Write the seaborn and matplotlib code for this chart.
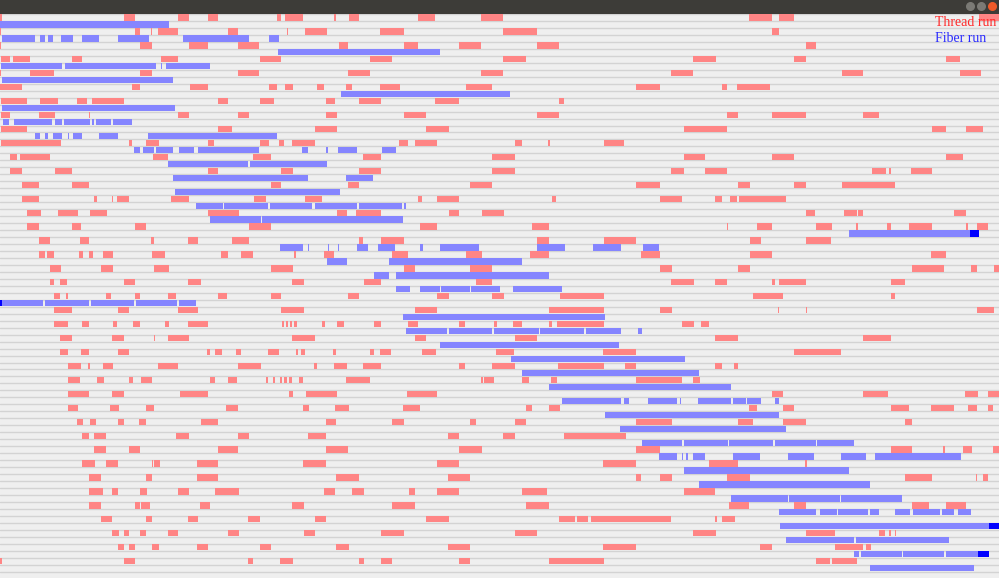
import matplotlib
matplotlib.use("Agg")
import matplotlib.pyplot as plt
from matplotlib.patches import Circle
import seaborn as sns

# time span of the trace (arbitrary ticks) and row layout
T_MAX = 1568
N_THREADS = 40

# thread runs, one list of (start, end) per thread
THREAD_RUNS = [
    [(0,3),(195,212),(280,296),(326,342),(434,441),(447,476),(524,527),(548,564),(656,683),(755,790),(1176,1211),(1223,1247),(1536,1568)],
    [(0,2),(212,220),(237,239),(248,280),(358,374),(450,452),(478,513),(597,634),(790,843),(1211,1223)],
    [(0,2),(220,239),(296,326),(374,407),(532,546),(634,656),(720,755),(843,878),(1265,1280)],
    [(2,16),(21,47),(113,129),(252,280),(408,441),(581,616),(790,826),(1088,1124),(1211,1212),(1246,1265),(1485,1507)],
    [(0,2),(47,84),(220,239),(374,407),(546,581),(755,790),(1053,1088),(1322,1355),(1507,1540)],
    [(0,35),(207,220),(298,326),(422,434),(447,460),(497,509),(543,552),(597,628),(731,773),(998,1036),(1133,1141),(1156,1209)],
    [(2,43),(63,91),(121,137),(144,195),(342,358),(408,430),(512,526),(563,598),(683,720),(878,885)],
    [(2,16),(61,87),(140,141),(279,296),(374,391),(512,529),(634,668),(843,878),(1141,1158),(1211,1265),(1355,1380)],
    [(2,43),(342,364),(494,529),(668,704),(1074,1141),(1463,1485),(1516,1543)],
    [(2,96),(202,207),(229,249),(326,336),(408,422),(438,446),(459,494),(626,641),(651,686),(808,819),(860,864),(948,980)],
    [(16,27),(31,78),(240,264),(397,425),(570,598),(773,808),(1074,1107),(1211,1247),(1485,1512)],
    [(16,35),(86,113),(326,342),(441,460),(563,598),(773,808),(1053,1074),(1106,1141),(1369,1391),(1395,1398),(1430,1463)],
    [(35,61),(113,140),(425,441),(546,563),(738,773),(998,1036),(1158,1177),(1246,1265),(1322,1405)],
    [(35,61),(148,153),(176,178),(184,203),(268,296),(399,418),(479,505),(656,663),(686,720),(866,873),(1036,1071),(1123,1133),(1146,1156),(1160,1233)],
    [(43,64),(91,122),(142,168),(326,375),(529,545),(559,598),(704,720),(757,791),(1265,1279),(1325,1345),(1347,1355),(1497,1516)],
    [(43,61),(113,127),(212,229),(391,425),(659,686),(835,862),(1141,1143),(1188,1212),(1280,1306),(1343,1346),(1392,1398),(1427,1463),(1516,1519),(1533,1551)],
    [(61,78),(126,140),(237,242),(295,310),(364,391),(563,570),(598,634),(843,862),(948,998),(1177,1194),(1265,1304)],
    [(61,71),(74,85),(124,130),(140,146),(162,177),(238,259),(347,358),(378,397),(462,465),(509,524),(615,640),(731,757),(832,862),(1006,1036),(1177,1212),(1462,1485)],
    [(78,96),(159,177),(242,265),(425,460),(634,651),(738,773),(1036,1054),(1158,1177),(1432,1481),(1524,1533),(1560,1568)],
    [(78,85),(94,105),(195,212),(295,315),(459,477),(571,598),(747,773),(1053,1089),(1123,1141),(1211,1217),(1223,1265),(1398,1420)],
    [(85,94),(104,107),(167,174),(212,219),(264,277),(342,356),(425,441),(546,564),(686,704),(773,791),(879,948),(1182,1229),(1398,1405)],
    [(85,113),(185,203),(280,310),(441,477),(651,686),(861,948),(1036,1054),(1221,1223),(1265,1267),(1534,1560)],
    [(85,107),(129,140),(177,184),(208,219),(259,265),(295,326),(443,446),(449,452),(455,458),(462,466),(506,510),(529,540),(587,598),(641,656),(720,730),(776,780),(805,820),(861,866),(874,948),(1071,1089),(1100,1113)],
    [(94,113),(176,195),(242,244),(264,296),(459,494),(651,669),(808,843),(1123,1158),(1355,1398)],
    [(94,107),(127,140),(185,203),(325,330),(337,348),(371,378),(421,438),(465,467),(473,478),(523,528),(580,587),(597,614),(663,685),(779,806),(947,998),(1246,1320)],
    [(107,127),(138,141),(162,177),(248,280),(374,409),(493,498),(525,545),(570,598),(720,730),(773,808),(876,948),(981,998),(1123,1134),(1152,1158)],
    [(107,125),(153,163),(202,209),(221,239),(330,337),(358,372),(418,421),(428,431),(440,442),(446,450),(454,458),(470,476),(543,581),(755,758),(760,775),(820,830),(865,874),(998,1071),(1088,1099)],
    [(107,140),(176,195),(283,326),(454,460),(480,529),(639,686),(1211,1229),(1355,1393),(1515,1535),(1551,1568)],
    [(107,122),(173,186),(229,241),(355,374),(476,485),(526,547),(633,660),(826,835),(861,879),(1176,1188),(1229,1247),(1398,1427),(1462,1497),(1519,1533),(1551,1558)],
    [(121,130),(141,150),(185,195),(218,229),(315,342),(512,528),(615,634),(738,747),(808,826),(998,1054),(1158,1182),(1229,1265),(1420,1432)],
    [(129,140),(148,167),(277,296),(374,391),(483,512),(703,720),(790,808),(885,983)],
    [(148,167),(202,220),(342,374),(512,546),(720,756),(998,1036),(1398,1432),(1480,1484),(1511,1525),(1558,1568)],
    [(129,149),(166,185),(238,240),(241,251),(309,342),(476,512),(686,720),(947,998),(1113,1158),(1264,1267),(1321,1322)],
    [(140,158),(229,238),(309,342),(528,564),(703,738),(998,1006),(1036,1054),(1141,1177),(1420,1463),(1532,1534),(1543,1550)],
    [(140,162),(176,185),(220,231),(279,297),(337,375),(509,526),(553,571),(642,651),(686,720),(819,859),(1074,1123)],
    [(140,158),(212,220),(221,236),(314,330),(459,477),(615,651),(826,861),(1144,1176),(1246,1265),(1432,1458),(1485,1516)],
    [(158,176),(229,239),(295,310),(390,408),(494,512),(668,704),(878,902),(906,923),(928,1053),(1123,1125),(1133,1153)],
    [(176,186),(194,203),(220,229),(264,280),(358,375),(477,494),(598,634),(808,843),(1088,1124),(1265,1310),(1380,1389),(1395,1398),(1404,1407)],
    [(185,195),(202,212),(238,249),(309,326),(408,425),(528,547),(703,738),(947,999),(1193,1212),(1310,1355),(1360,1367)],
    [(0,3),(194,212),(390,397),(440,460),(563,571),(598,615),(720,738),(861,948),(1280,1302),(1306,1345)],
]

# fiber runs, one list of (start, end) per thread
FIBER_RUNS = [
    [(0,78),(79,265)],
    [(3,55),(62,70),(75,83),(96,115),(128,155),(185,234),(287,391),(422,438)],
    [(436,690)],
    [(2,97),(102,245),(252,255),(260,330)],
    [(3,271)],
    [(535,800)],
    [(3,274)],
    [(5,14),(22,81),(86,97),(100,141),(145,148),(150,174),(178,207)],
    [(55,63),(70,75),(83,97),(106,108),(115,129),(155,185),(233,435)],
    [(210,220),(225,242),(245,271),(281,305),(310,407),(474,484),(512,515),(531,560),(599,621)],
    [(264,390),(392,514)],
    [(271,483),(543,586)],
    [(274,534)],
    [(308,350),(352,420),(424,490),(494,561),(564,631),(634,637)],
    [(330,409),(411,633)],
    [(1333,1537)],
    [(439,476),(483,485),(515,517),(530,532),(560,577),(593,620),(659,664),(691,752),(843,887),(930,975),(1009,1035)],
    [(514,545),(610,820)],
    [(587,611),(622,862)],
    [(621,644),(659,690),(692,737),(740,785),(805,882)],
    [(0,68),(71,140),(143,210),(213,278),(281,307)],
    [(633,950)],
    [(637,702),(705,773),(776,846),(848,917),(920,974),(1002,1007)],
    [(691,971)],
    [(802,1075)],
    [(820,1097)],
    [(862,1147)],
    [(882,975),(980,987),(1017,1063),(1067,1069),(1096,1148),(1151,1171),(1173,1195),(1217,1222)],
    [(950,1222)],
    [(973,1233)],
    [(1008,1071),(1073,1142),(1144,1214),(1216,1281),(1283,1341)],
    [(1035,1062),(1070,1072),(1077,1080),(1088,1106),(1150,1193),(1237,1277),(1320,1360),(1374,1508)],
    [(1074,1333)],
    [(1097,1365)],
    [(1147,1237),(1239,1318),(1320,1416)],
    [(1222,1280),(1287,1313),(1316,1362),(1366,1379),(1405,1428),(1433,1475),(1479,1497),(1504,1524)],
    [(1224,1552)],
    [(1233,1341),(1344,1490)],
    [(1341,1349),(1351,1415),(1417,1482),(1485,1535)],
    [(1365,1528)],
]

# stretches where many fibers overlap (drawn saturated)
DENSE_FIBER = [(15, (1522, 1537)), (20, (0, 3)), (36, (1552, 1568)), (38, (1535, 1552))]

LEGEND_LABELS = ["Thread run", "Fiber run"]

RED = "#ff8585"
BLUE = "#8585ff"
DENSE_BLUE = "#0000ff"
BG = "#efefef"

sns.set_theme(style="white")

W, H = 999, 578
BAR_TOP = 14        # title bar height in px
ROW_PX = 6.97

fig = plt.figure(figsize=(W / 100, H / 100), dpi=100, facecolor=BG)
ax = fig.add_axes([0, 0, 1, 1 - BAR_TOP / H])
ax.set_facecolor(BG)
n_rows = 2 * N_THREADS
ax.set_xlim(0, T_MAX)
ax.set_ylim((H - BAR_TOP) / ROW_PX, 0)
ax.set_xticks([])
ax.set_yticks([])
for s in ax.spines.values():
    s.set_visible(False)

for r in range(n_rows + 1):
    ax.axhline(r, color="#d3d3d3", lw=1.0, zorder=1)

def spans(runs):
    return [(a, b - a) for a, b in runs]

bh = 0.9
for i, runs in enumerate(THREAD_RUNS):
    ax.broken_barh(spans(runs), (2 * i + 0.05, bh), facecolors=RED,
                   edgecolor="none", zorder=2)
for i, runs in enumerate(FIBER_RUNS):
    ax.broken_barh(spans(runs), (2 * i + 1.05, bh), facecolors=BLUE,
                   edgecolor="none", zorder=2)
for i, (a, b) in DENSE_FIBER:
    ax.broken_barh([(a, b - a)], (2 * i + 1.05, bh), facecolors=DENSE_BLUE,
                   edgecolor="none", zorder=3)

# legend as plain coloured text
fig.text(935 / W, 1 - 26.5 / H, LEGEND_LABELS[0], color="#ff2a2a",
         family="Liberation Serif", fontsize=10, va="baseline", zorder=5)
fig.text(935 / W, 1 - 42.5 / H, LEGEND_LABELS[1], color="#2a2aff",
         family="Liberation Serif", fontsize=10, va="baseline", zorder=5)

# window title bar
tb = fig.add_axes([0, 1 - BAR_TOP / H, 1, BAR_TOP / H])
tb.set_facecolor("#3d3c38")
tb.set_xlim(0, W)
tb.set_ylim(BAR_TOP, 0)
tb.set_xticks([])
tb.set_yticks([])
for s in tb.spines.values():
    s.set_visible(False)
for cx, col in [(970.5, "#7b7a75"), (981.5, "#7b7a75"), (992.5, "#ef5a29")]:
    tb.add_patch(Circle((cx, 6.5), 3.8, color=col))

fig.savefig("out.png", dpi=100, facecolor=BG)
